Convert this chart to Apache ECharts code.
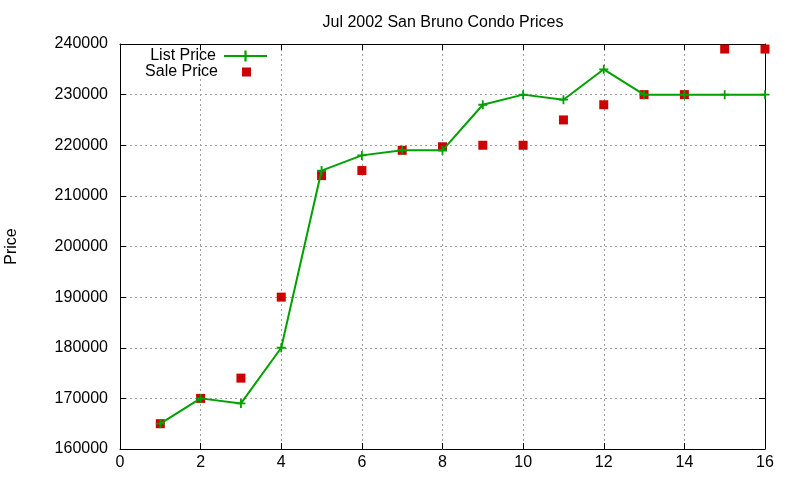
<!DOCTYPE html>
<html>
<head>
<meta charset="utf-8">
<script src="https://cdn.jsdelivr.net/npm/echarts@6/dist/echarts.min.js"></script>
<style>
  html, body { margin: 0; padding: 0; background: #fff; }
  #chart { width: 800px; height: 480px; }
</style>
</head>
<body>
<div id="chart"></div>
<script>
const listingNo = [1, 2, 3, 4, 5, 6, 7, 8, 9, 10, 11, 12, 13, 14, 15, 16];
const listPrice = [165000, 170000, 169000, 180000, 215000, 218000, 219000, 219000,
                   228000, 230000, 229000, 235000, 230000, 230000, 230000, 230000];
const salePrice = [165000, 170000, 174000, 190000, 214000, 215000, 219000, 219700,
                   220000, 220000, 225000, 228000, 230000, 230000, 239000, 239000];

const FONT = 'Liberation Sans, Arial, sans-serif';
const plus = 'path://M4,0H6V10H4Z M0,4H10V6H0Z';
const gridLine = { show: true, lineStyle: { color: '#a0a0a0', type: [2, 3], width: 1 } };
const border = { show: true, onZero: false, lineStyle: { color: '#000', width: 1 } };
const tick = { show: true, inside: true, length: 6, lineStyle: { color: '#000' } };

const chart = echarts.init(document.getElementById('chart'));
chart.setOption({
  animation: false,
  backgroundColor: '#fff',
  title: {
    text: 'Jul 2002 San Bruno Condo Prices',
    left: 438, top: 10, textAlign: 'center',
    textStyle: { fontFamily: FONT, fontSize: 16, fontWeight: 'normal', color: '#000' }
  },
  legend: [{
    data: ['List Price'],
    orient: 'vertical', align: 'right', padding: 0,
    right: 532, top: 48,
    itemWidth: 43, itemHeight: 14,
    textStyle: { fontFamily: FONT, fontSize: 16, color: '#000', padding: [0, 3, 0, 0] }
  }, {
    data: ['Sale Price'],
    orient: 'vertical', align: 'right', padding: 0,
    right: 549, top: 64,
    itemWidth: 9, itemHeight: 9,
    textStyle: { fontFamily: FONT, fontSize: 16, color: '#000', padding: [0, 19, 0, 0] }
  }],
  grid: { left: 120, right: 35, top: 44, bottom: 31, outerBoundsMode: 'none', containLabel: false },
  xAxis: [{
    type: 'value', min: 0, max: 16, interval: 2,
    axisLine: border, axisTick: tick, splitLine: gridLine,
    axisLabel: { fontFamily: FONT, fontSize: 16, color: '#000', margin: 6 }
  }, {
    type: 'value', position: 'top', min: 0, max: 16, interval: 2,
    axisLine: border, axisTick: tick, splitLine: { show: false }, axisLabel: { show: false }
  }],
  yAxis: [{
    type: 'value', min: 160000, max: 240000, interval: 10000,
    name: 'Price', nameLocation: 'middle', nameGap: 100, nameRotate: 90,
    nameTextStyle: { fontFamily: FONT, fontSize: 16, color: '#000' },
    axisLine: border, axisTick: tick, splitLine: gridLine,
    axisLabel: { fontFamily: FONT, fontSize: 16, color: '#000', margin: 12, formatter: v => String(v) }
  }, {
    type: 'value', position: 'right', min: 160000, max: 240000, interval: 10000,
    axisLine: border, axisTick: tick, splitLine: { show: false }, axisLabel: { show: false }
  }],
  series: [{
    name: 'List Price',
    type: 'line',
    data: listingNo.map((x, i) => [x, listPrice[i]]),
    color: '#00a000',
    lineStyle: { width: 2, color: '#00a000' },
    symbol: plus, symbolSize: 9, showSymbol: true,
    itemStyle: { color: '#00a000' }
  }, {
    name: 'Sale Price',
    type: 'scatter',
    data: listingNo.map((x, i) => [x, salePrice[i]]),
    color: '#cc0000',
    symbol: 'rect', symbolSize: 9,
    itemStyle: { color: '#cc0000', opacity: 1 }
  }]
});
</script>
</body>
</html>
